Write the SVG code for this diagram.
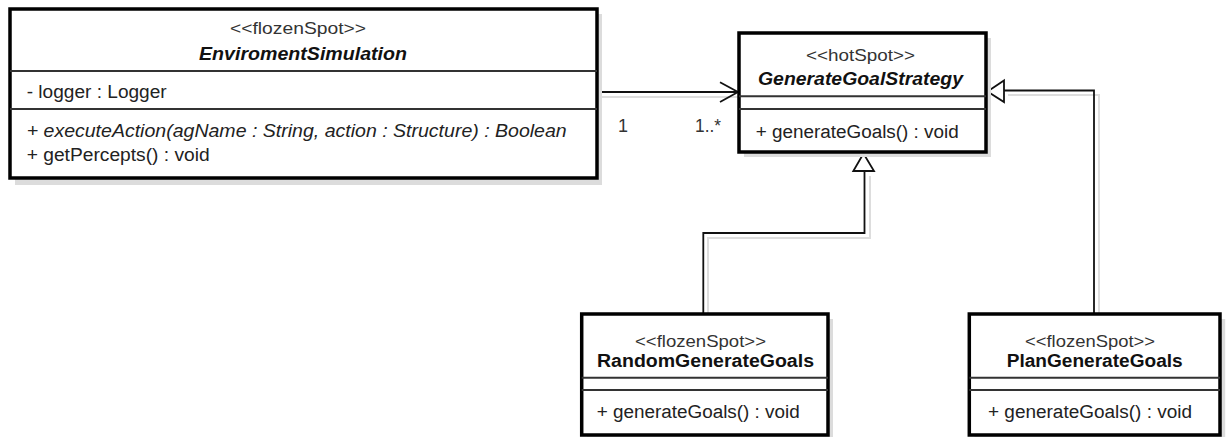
<svg xmlns="http://www.w3.org/2000/svg" width="1228" height="437" viewBox="0 0 1228 437">
<style>
.shadow{fill:#dcdcdc;stroke:none}
.box{fill:#ffffff;stroke:#000000;stroke-width:3.5}
.sep{stroke:#333333;stroke-width:2}
.st{font-family:"Liberation Sans",Arial,sans-serif;font-size:16.5px;fill:#333333}
.nm{font-family:"Liberation Sans",Arial,sans-serif;font-size:18px;font-weight:bold;fill:#111111}
.it{font-style:italic}
.mb{font-family:"Liberation Sans",Arial,sans-serif;font-size:18px;fill:#222222}
.lbl{font-family:"Liberation Sans",Arial,sans-serif;font-size:18px;fill:#333333}
.edge{fill:none;stroke:#111111;stroke-width:1.8}
.eshadow{fill:none;stroke:#dddddd;stroke-width:2}
.tri{fill:#ffffff;stroke:#111111;stroke-width:1.8;stroke-linejoin:miter}
</style>

<g id="connectors">
  <polyline class="eshadow" points="600,97 741,97"/>
  <polyline class="eshadow" points="708,314 708,238 870,238 870,176"/>
  <polyline class="eshadow" points="1099,314 1099,95 1008,95"/>
  <line class="edge" x1="597" y1="92" x2="738" y2="92"/>
  <polyline class="edge" points="720,82.3 738,92 720,102"/>
  <text class="lbl" x="618" y="132">1</text>
  <text class="lbl" x="695" y="132" textLength="26" lengthAdjust="spacingAndGlyphs">1..*</text>
  <polyline class="edge" points="703.3,314 703.3,233 864.5,233 864.5,171"/>
  <polygon class="tri" points="863.5,153.5 853.3,171 874,171"/>
  <polyline class="edge" points="1094,314 1094,90.5 1004,90.5"/>
  <polygon class="tri" points="987.5,91.5 1004,80.5 1004,102"/>
</g>

<g id="EnviromentSimulation">
  <rect class="shadow" x="15" y="14" width="587" height="171"/>
  <rect class="box" x="10" y="9" width="587" height="169"/>
  <line class="sep" x1="10" y1="71" x2="597" y2="71"/>
  <line class="sep" x1="10" y1="109" x2="597" y2="109"/>
  <text class="st" x="298" y="34" text-anchor="middle" textLength="136" lengthAdjust="spacingAndGlyphs">&lt;&lt;flozenSpot&gt;&gt;</text>
  <text class="nm it" x="303" y="59.5" text-anchor="middle" textLength="208" lengthAdjust="spacingAndGlyphs">EnviromentSimulation</text>
  <text class="mb" x="26.7" y="98" textLength="140" lengthAdjust="spacingAndGlyphs">- logger : Logger</text>
  <text class="mb it" x="26.7" y="136.5" textLength="540" lengthAdjust="spacingAndGlyphs">+ executeAction(agName : String, action : Structure) : Boolean</text>
  <text class="mb" x="26.7" y="161" textLength="183" lengthAdjust="spacingAndGlyphs">+ getPercepts() : void</text>
</g>

<g id="GenerateGoalStrategy">
  <rect class="shadow" x="744" y="38" width="247" height="119"/>
  <rect class="box" x="739" y="33" width="247" height="119"/>
  <line class="sep" x1="739" y1="96.3" x2="986" y2="96.3"/>
  <line class="sep" x1="739" y1="109" x2="986" y2="109"/>
  <text class="st" x="860.5" y="61" text-anchor="middle" textLength="109" lengthAdjust="spacingAndGlyphs">&lt;&lt;hotSpot&gt;&gt;</text>
  <text class="nm it" x="860.5" y="85.3" text-anchor="middle" textLength="205" lengthAdjust="spacingAndGlyphs">GenerateGoalStrategy</text>
  <text class="mb" x="755.7" y="138" textLength="203" lengthAdjust="spacingAndGlyphs">+ generateGoals() : void</text>
</g>

<g id="RandomGenerateGoals">
  <rect class="shadow" x="587" y="319" width="246" height="121"/>
  <rect class="box" x="581.7" y="314" width="246.3" height="121"/>
  <line class="sep" x1="581.7" y1="377.7" x2="828" y2="377.7"/>
  <line class="sep" x1="581.7" y1="390" x2="828" y2="390"/>
  <text class="st" x="700.5" y="346.7" text-anchor="middle" textLength="131" lengthAdjust="spacingAndGlyphs">&lt;&lt;flozenSpot&gt;&gt;</text>
  <text class="nm" x="705.5" y="366.7" text-anchor="middle" textLength="217" lengthAdjust="spacingAndGlyphs">RandomGenerateGoals</text>
  <text class="mb" x="596.7" y="418" textLength="203" lengthAdjust="spacingAndGlyphs">+ generateGoals() : void</text>
</g>

<g id="PlanGenerateGoals">
  <rect class="shadow" x="974.5" y="319" width="250.7" height="121"/>
  <rect class="box" x="969.3" y="314" width="250.7" height="121"/>
  <line class="sep" x1="969.3" y1="377.7" x2="1220" y2="377.7"/>
  <line class="sep" x1="969.3" y1="390" x2="1220" y2="390"/>
  <text class="st" x="1090" y="346.7" text-anchor="middle" textLength="130" lengthAdjust="spacingAndGlyphs">&lt;&lt;flozenSpot&gt;&gt;</text>
  <text class="nm" x="1094.7" y="366.7" text-anchor="middle" textLength="176" lengthAdjust="spacingAndGlyphs">PlanGenerateGoals</text>
  <text class="mb" x="988" y="418" textLength="204" lengthAdjust="spacingAndGlyphs">+ generateGoals() : void</text>
</g>
</svg>
